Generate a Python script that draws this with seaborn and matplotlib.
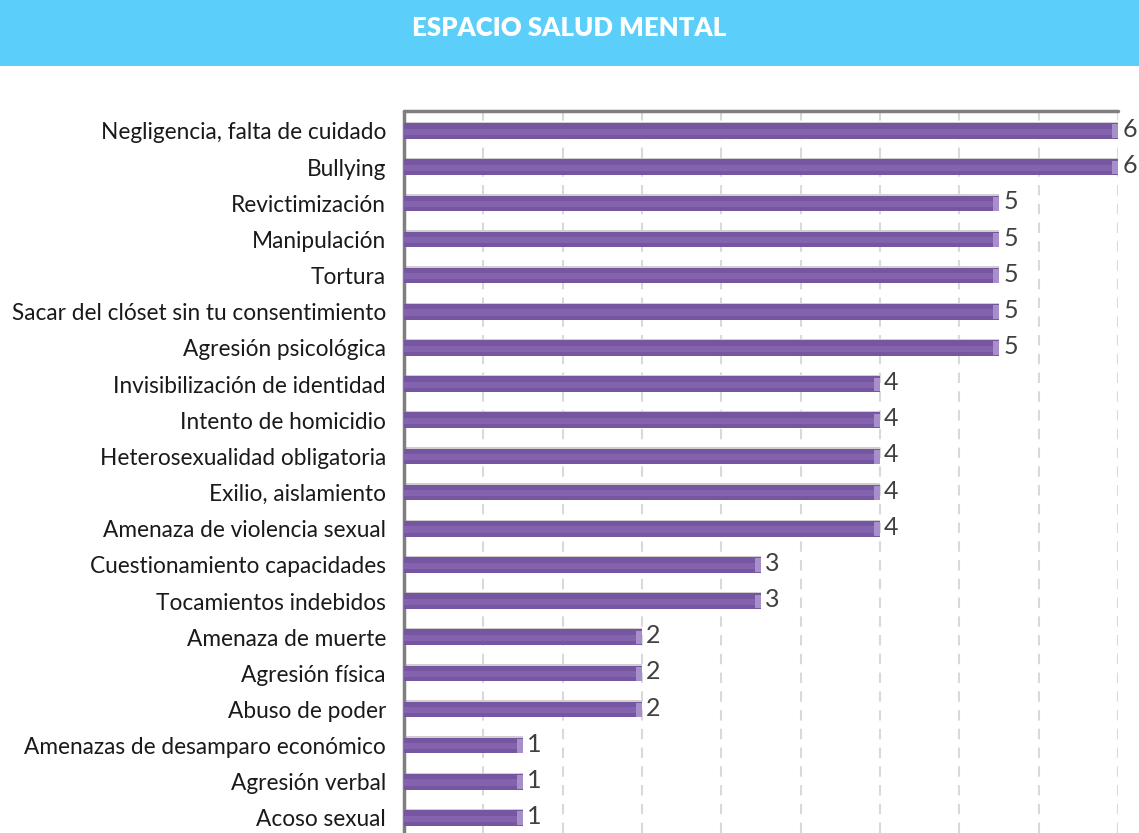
import numpy as np
import pandas as pd
import matplotlib
matplotlib.use("Agg")
import matplotlib.pyplot as plt
from matplotlib.patches import Rectangle
import seaborn as sns

# Categories and counts (top to bottom)
categories = [
    "Negligencia, falta de cuidado",
    "Bullying",
    "Revictimización",
    "Manipulación",
    "Tortura",
    "Sacar del clóset sin tu consentimiento",
    "Agresión psicológica",
    "Invisibilización de identidad",
    "Intento de homicidio",
    "Heterosexualidad obligatoria",
    "Exilio, aislamiento",
    "Amenaza de violencia sexual",
    "Cuestionamiento capacidades",
    "Tocamientos indebidos",
    "Amenaza de muerte",
    "Agresión física",
    "Abuso de poder",
    "Amenazas de desamparo económico",
    "Agresión verbal",
    "Acoso sexual",
]
counts = [6, 6, 5, 5, 5, 5, 5, 4, 4, 4, 4, 4, 3, 3, 2, 2, 2, 1, 1, 1]
title = "ESPACIO SALUD MENTAL"

df = pd.DataFrame({"categoria": categories, "casos": counts})

sns.set_theme(style="white")
plt.rcParams["font.family"] = ["Lato", "DejaVu Sans"]

W, H = 1139, 833
fig = plt.figure(figsize=(W / 100, H / 100), dpi=100)

# Header band
band_h = 66 / H
fig.patches.append(Rectangle((0, 1 - band_h), 1, band_h, transform=fig.transFigure,
                             facecolor="#5BCEFA", edgecolor="none", zorder=0))
fig.text(0.5, 1 - 28 / H, title, ha="center", va="center", color="white",
         fontsize=18.5, fontweight="heavy", family=["Lato", "DejaVu Sans"])

ax = fig.add_axes([404 / W, 0, 714 / W, 722 / H])

n = len(categories)
pos = np.arange(n)

# Light shadow line on top of each bar
ax.barh(pos - 0.03, df["casos"], height=0.45, color="#CFCFCF", edgecolor="none", zorder=2)

sns.barplot(data=df, y="categoria", x="casos", orient="h", color="#7656A1",
            saturation=1, width=0.43, edgecolor="none", ax=ax, zorder=3)

# Lighter middle stripe for a rounded look
ax.barh(pos + 0.02, df["casos"], height=0.17, color="#8463AE", edgecolor="none", zorder=4)
# Light end caps
ax.barh(pos + 0.01, [0.05] * n, left=df["casos"] - 0.05, height=0.38,
        color="#A68FCB", edgecolor="none", zorder=5)

# Value labels
for i, v in enumerate(counts):
    ax.text(v + 0.035, i - 0.04, str(v), va="center", ha="left",
            fontsize=18, color="#404040", zorder=6)

ax.set_xlim(0, 6)
ax.set_ylim(n - 1 + 0.415, -0.553)

# Dashed vertical gridlines every 2/3 unit
for gx in np.arange(1, 10) * (2 / 3):
    ax.axvline(gx, color="#D9D9D9", lw=1.5, ls=(0, (5, 4)), zorder=1)

ax.set_xticks([])
ax.set_xlabel("")
ax.set_ylabel("")
ax.tick_params(axis="y", length=0, pad=13, labelsize=16.3, labelcolor="#1A1A1A")

for side in ["right", "bottom"]:
    ax.spines[side].set_visible(False)
for side in ["left", "top"]:
    ax.spines[side].set_visible(True)
    ax.spines[side].set_color("#7F7F7F")
    ax.spines[side].set_linewidth(2.5)
    ax.spines[side].set_capstyle("round")
ax.patch.set_alpha(0)

fig.savefig("out.png", dpi=100, facecolor="white")
